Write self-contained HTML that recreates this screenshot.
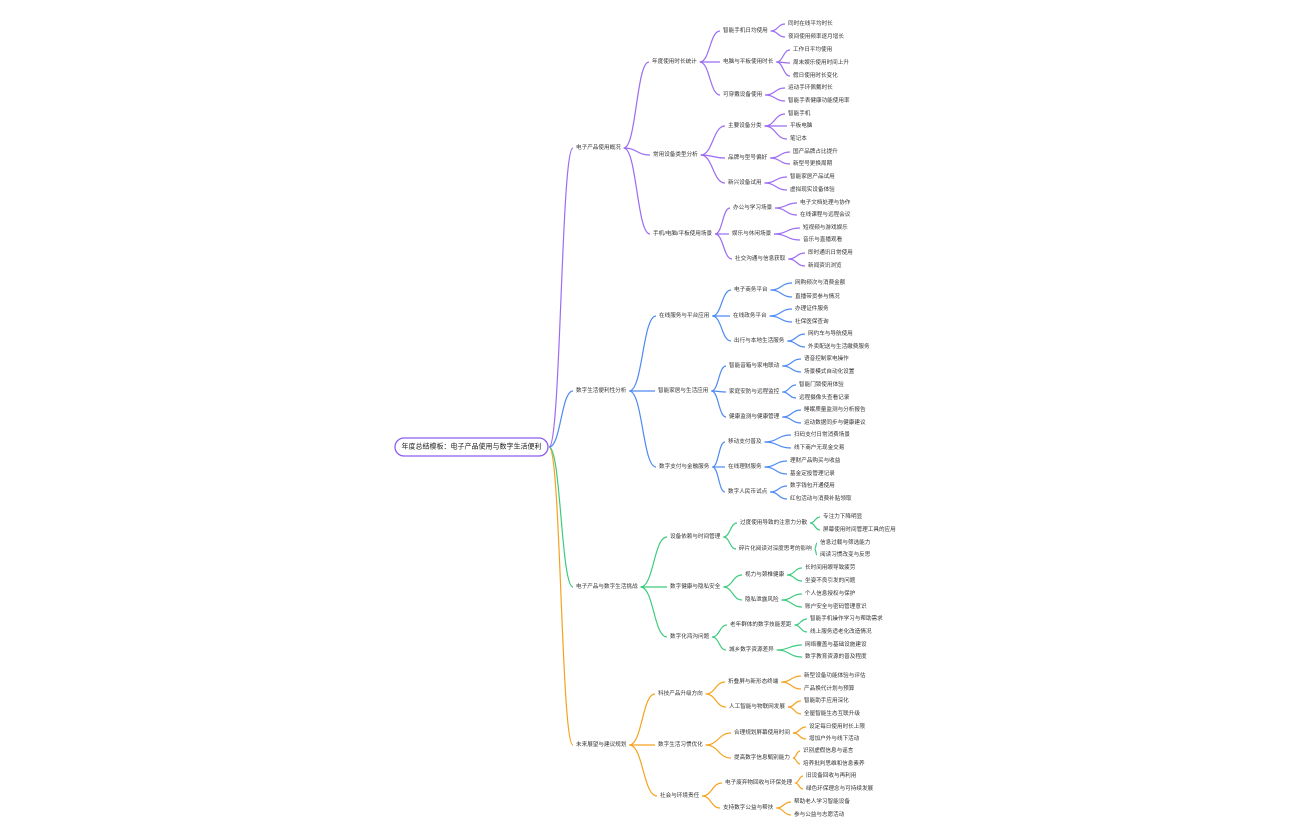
<!DOCTYPE html>
<html><head><meta charset="utf-8"><style>
html,body{margin:0;padding:0;background:#fff;width:1296px;height:840px;overflow:hidden}
svg text{font-family:"Liberation Sans","Noto Sans CJK SC",sans-serif;fill:#333;dominant-baseline:central}
</style></head><body>
<svg id="s" width="1296" height="840" xmlns="http://www.w3.org/2000/svg">
<rect x="395" y="438" width="153" height="18" rx="9" fill="#fff" stroke="#8e5cf0" stroke-width="1.3"/>
<text x="471.5" y="447" font-size="7" text-anchor="middle" style="fill:#222">年度总结模板：电子产品使用与数字生活便利</text>
</svg>
<script>
var T=[
["#9b6cf2","电子产品使用概况",576,148,[
 ["年度使用时长统计",652,62,[["智能手机日均使用",723,31,[["同时在线平均时长",788,24],["夜间使用频率逐月增长",788,37]]],["电脑与平板使用时长",723,62,[["工作日平均使用",793,50],["周末娱乐使用时间上升",793,63],["假日使用时长变化",793,76]]],["可穿戴设备使用",723,95,[["运动手环佩戴时长",788,88],["智能手表健康功能使用率",788,101]]]]],
 ["常用设备类型分析",653,155,[["主要设备分类",728,126,[["智能手机",788,114],["平板电脑",790,126],["笔记本",790,139]]],["品牌与型号偏好",728,158,[["国产品牌占比提升",793,152],["新型号更换周期",793,164]]],["新兴设备试用",728,183,[["智能家居产品试用",790,177],["虚拟现实设备体验",790,190]]]]],
 ["手机/电脑/平板使用场景",653,234,[["办公与学习场景",733,208,[["电子文档处理与协作",800,203],["在线课程与远程会议",800,215]]],["娱乐与休闲场景",732,234,[["短视频与游戏娱乐",803,228],["音乐与直播观看",803,240]]],["社交沟通与信息获取",735,259,[["即时通讯日常使用",808,253],["新闻资讯浏览",808,266]]]]]]],
["#4d8af2","数字生活便利性分析",576,391,[
 ["在线服务与平台应用",659,316,[["电子商务平台",734,290,[["网购频次与消费金额",795,283],["直播带货参与情况",795,297]]],["在线政务平台",733,316,[["办理证件服务",795,309],["社保医保查询",795,322]]],["出行与本地生活服务",734,341,[["网约车与导航使用",808,334],["外卖配送与生活缴费服务",808,347]]]]],
 ["智能家居与生活应用",658,391,[["智能音箱与家电联动",729,366,[["语音控制家电操作",804,359],["场景模式自动化设置",804,372]]],["家庭安防与远程监控",729,392,[["智能门锁使用体验",799,385],["远程摄像头查看记录",799,398]]],["健康监测与健康管理",729,417,[["睡眠质量监测与分析报告",804,410],["运动数据同步与健康建议",804,423]]]]],
 ["数字支付与金融服务",659,467,[["移动支付普及",728,442,[["扫码支付日常消费场景",794,435],["线下商户无现金交易",794,448]]],["在线理财服务",728,467,[["理财产品购买与收益",790,461],["基金定投管理记录",790,474]]],["数字人民币试点",728,492,[["数字钱包开通使用",790,486],["红包活动与消费补贴领取",790,499]]]]]]],
["#3ccb7d","电子产品与数字生活挑战",576,587,[
 ["设备依赖与时间管理",670,537,[["过度使用导致的注意力分散",740,523,[["专注力下降明显",823,517],["屏幕使用时间管理工具的应用",823,530]]],["碎片化阅读对深度思考的影响",739,549,[["信息过载与筛选能力",820,543],["阅读习惯改变与反思",820,555]]]]],
 ["数字健康与隐私安全",670,587,[["视力与颈椎健康",745,575,[["长时间用眼导致疲劳",805,568],["坐姿不良引发的问题",805,581]]],["隐私泄露风险",745,600,[["个人信息授权与保护",805,594],["账户安全与密码管理意识",805,607]]]]],
 ["数字化鸿沟问题",670,637,[["老年群体的数字技能差距",730,625,[["智能手机操作学习与帮助需求",810,619],["线上服务适老化改造情况",810,632]]],["城乡数字资源差异",729,650,[["网络覆盖与基础设施建设",805,645],["数字教育资源的普及程度",805,657]]]]]]],
["#f5a21f","未来展望与建议规划",576,745,[
 ["科技产品升级方向",658,694,[["折叠屏与新形态终端",728,682,[["新型设备功能体验与评估",804,676],["产品换代计划与预算",804,689]]],["人工智能与物联网发展",729,707,[["智能助手应用深化",804,701],["全屋智能生态互联升级",804,714]]]]],
 ["数字生活习惯优化",658,745,[["合理规划屏幕使用时间",734,733,[["设定每日使用时长上限",809,727],["增加户外与线下活动",809,739]]],["提高数字信息甄别能力",734,758,[["识别虚假信息与谣言",803,751],["培养批判思维和信息素养",803,764]]]]],
 ["社会与环境责任",660,796,[["电子废弃物回收与环保处理",725,783,[["旧设备回收与再利用",806,776],["绿色环保理念与可持续发展",806,789]]],["支持数字公益与帮扶",723,808,[["帮助老人学习智能设备",794,802],["参与公益与志愿活动",794,815]]]]]]]
];
var s=document.getElementById('s'),NS="http://www.w3.org/2000/svg";
function txt(t,x,y){var e=document.createElementNS(NS,'text');e.setAttribute('x',x);e.setAttribute('y',y);e.setAttribute('font-size','5.6');e.textContent=t;s.appendChild(e);return e.getComputedTextLength();}
function line(x1,y1,x2,y2,c){var p=document.createElementNS(NS,'path');var m=(x1+x2)/2;p.setAttribute('d','M'+x1+' '+y1+' C'+m+' '+y1+' '+m+' '+y2+' '+x2+' '+y2);p.setAttribute('stroke',c);p.setAttribute('stroke-width','1.2');p.setAttribute('fill','none');s.insertBefore(p,s.firstChild);}
function node(n,c,px,py){var w=txt(n[0],n[1],n[2]);line(px,py,n[1]-3,n[2],c);if(n[3])n[3].forEach(function(k){node(k,c,n[1]+w+3,n[2]);});}
T.forEach(function(b){var c=b[0];var w=txt(b[1],b[2],b[3]);line(549,447,b[2]-3,b[3],c);b[4].forEach(function(k){node(k,c,b[2]+w+3,b[3]);});});
</script>
</body></html>
